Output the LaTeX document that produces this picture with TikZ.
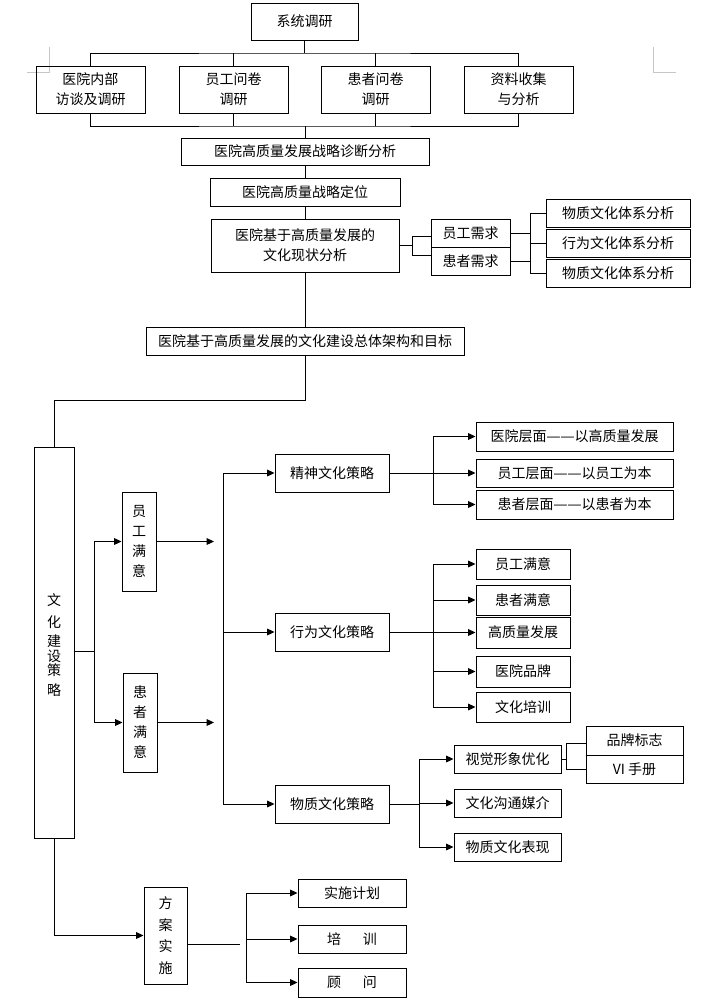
\documentclass[tikz,border=0pt]{standalone}
\usepackage{fontspec}
\setmainfont{Noto Sans CJK SC}
\usetikzlibrary{arrows.meta}
\newcommand{\bx}[7][]{\node[box,#1,minimum width={(#5-#3)*0.75pt},minimum height={(#6-#4)*0.75pt}] (#2) at ({(#3+#5)/2},{(#4+#6)/2}) {#7};}
\newcommand{\dsh}{\makebox[10.5pt]{\scalebox{1.15}[1]{—}}}
\begin{document}
\begin{tikzpicture}[x=0.75pt,y=-0.75pt,line width=0.75pt,
  box/.style={draw,inner sep=0pt,align=center,font=\fontsize{10.5pt}{15pt}\selectfont},
  chr/.style={inner sep=0pt,font=\fontsize{10.5pt}{10.5pt}\selectfont},
  arr/.style={-{Triangle[length=5.5pt,width=5pt]}},
  cropmark/.style={draw=gray!45,line width=0.6pt}]
\useasboundingbox[fill=white] (0,0) rectangle (707,1004);
% crop marks
\draw[cropmark] (49,47) -- (49,72) -- (27,72);
\draw[cropmark] (653,47) -- (653,72) -- (676,72);
% top part
\bx{sys}{251}{3}{358}{40}{系统调研}
\bx{r1}{36}{66}{145}{113}{医院内部\\访谈及调研}
\bx{r2}{179}{66}{288}{113}{员工问卷\\调研}
\bx{r3}{321}{66}{430}{113}{患者问卷\\调研}
\bx{r4}{464}{66}{573}{113}{资料收集\\与分析}
\bx{diag}{181}{138}{429}{165}{医院高质量发展战略诊断分析}
\bx{pos}{210}{178}{400}{206}{医院高质量战略定位}
\bx{cur}{211}{219}{399}{272}{医院基于高质量发展的\\文化现状分析}
\bx{need1}{431}{219}{510}{247}{员工需求}
\bx{need2}{431}{247}{510}{275}{患者需求}
\bx{an1}{546}{199}{690}{227}{物质文化体系分析}
\bx{an2}{546}{229}{690}{257}{行为文化体系分析}
\bx{an3}{546}{259}{690}{287}{物质文化体系分析}
\bx{frame}{146}{327}{464}{355}{医院基于高质量发展的文化建设总体架构和目标}
\coordinate (tb) at (305,53);
\coordinate (bb) at (305,126);
\draw (sys.south) -- (sys.south |- tb);
\draw (r1.north) |- (tb) -| (r4.north);
\draw (r2.north) -- (r2.north |- tb);
\draw (r3.north) -- (r3.north |- tb);
\draw (r1.south) |- (bb) -| (r4.south);
\draw (r2.south) -- (r2.south |- bb);
\draw (r3.south) -- (r3.south |- bb);
\draw (bb) -- (bb |- diag.north);
\draw (diag.south) -- (pos.north);
\draw (pos.south) -- (cur.north);
\draw (cur.south) -- (frame.north);
\coordinate (ka) at (412,236);
\coordinate (kb) at (412,255);
\draw (cur.east) -- (cur.east -| ka);
\draw (ka -| need1.west) -- (ka) -- (kb) -- (kb -| need2.west);
\coordinate (va) at (530,213);
\coordinate (vb) at (530,273);
\draw (need1.east) -- (need1.east -| va);
\draw (need2.east) -- (need2.east -| va);
\draw (an1.west) -- (va) -- (vb) -- (an3.west);
\draw (va |- an2.west) -- (an2.west);
% strategy part
\bx{strat}{34}{447}{74}{838}{}
\node[chr] (s1) at (54,600) {文};
\node[chr] (s2) at (54,622) {化};
\node[chr] (s3) at (54,641) {建};
\node[chr] (s4) at (54,656) {设};
\node[chr] (s5) at (54,670) {策};
\node[chr] (s6) at (54,690) {略};
\coordinate (turn) at (54,400);
\draw (frame.south) |- (strat.north |- turn) -- (strat.north);
\bx{emp}{122}{492}{156}{591}{员\\工\\满\\意}
\bx{pat}{123}{673}{157}{772}{患\\者\\满\\意}
\coordinate (lj) at (94,651);
\draw (strat.east |- lj) -- (lj);
\draw (lj |- emp.west) -- (lj |- pat.west);
\draw[arr] (lj |- emp.west) -- (emp.west);
\draw[arr] (lj |- pat.west) -- (pat.west);
\coordinate (e1) at (214,541.5);
\coordinate (e2) at (214,722.5);
\draw[arr] (emp.east) -- (e1);
\draw[arr] (pat.east) -- (e2);
\bx{spirit}{275}{454}{389}{492}{精神文化策略}
\bx{beh}{275}{613}{389}{651}{行为文化策略}
\bx{mat}{275}{785}{389}{823}{物质文化策略}
\coordinate (sv) at (223,0);
\draw (sv |- spirit.west) -- (sv |- mat.west);
\draw[arr] (sv |- spirit.west) -- (spirit.west);
\draw[arr] (sv |- beh.west) -- (beh.west);
\draw[arr] (sv |- mat.west) -- (mat.west);
% spirit branch
\bx{h1}{476}{422}{673}{451}{医院层面\dsh\dsh 以高质量发展}
\bx{h2}{476}{459}{673}{487}{员工层面\dsh\dsh 以员工为本}
\bx{h3}{476}{490}{673}{519}{患者层面\dsh\dsh 以患者为本}
\coordinate (v2) at (433,0);
\draw[arr] (spirit.east) -- (spirit.east -| h2.west);
\draw (v2 |- h1.west) -- (v2 |- h3.west);
\draw[arr] (v2 |- h1.west) -- (h1.west);
\draw[arr] (v2 |- h3.west) -- (h3.west);
% behaviour branch
\bx{b1}{476}{549}{570}{579}{员工满意}
\bx{b2}{476}{585}{570}{615}{患者满意}
\bx{b3}{476}{617}{570}{648}{高质量发展}
\bx{b4}{476}{656}{570}{687}{医院品牌}
\bx{b5}{476}{692}{570}{722}{文化培训}
\coordinate (v3) at (433,0);
\draw (beh.east) -- (v3 |- beh.east);
\draw (v3 |- b1.west) -- (v3 |- b5.west);
\foreach \b in {b1,b2,b3,b4,b5} \draw[arr] (v3 |- \b.west) -- (\b.west);
% material branch
\bx{m1}{454}{745}{561}{773}{视觉形象优化}
\bx{m2}{454}{789}{561}{817}{文化沟通媒介}
\bx{m3}{454}{833}{561}{861}{物质文化表现}
\coordinate (v4) at (419,0);
\draw (mat.east) -- (v4 |- mat.east);
\draw (v4 |- m1.west) -- (v4 |- m3.west);
\foreach \m in {m1,m2,m3} \draw[arr] (v4 |- \m.west) -- (\m.west);
\bx{p1}{586}{726}{683}{755}{品牌标志}
\bx{p2}{586}{755}{683}{783}{VI 手册}
\draw[line width=1.4pt] (p1.south west) -- (p1.south east);
\coordinate (q1) at (566,743);
\coordinate (q2) at (566,769);
\draw (m1.east) -- (m1.east -| q1);
\draw (q1 -| p1.west) -- (q1) -- (q2) -- (q2 -| p2.west);
% implementation
\bx[font=\fontsize{10.5pt}{16.3pt}\selectfont]{plan}{144}{887}{187}{984}{方\\案\\实\\施}
\draw[arr] (strat.south) |- (plan.west);
\bx{i1}{298}{879}{406}{907}{实施计划}
\bx{i2}{298}{925}{406}{953}{培\hspace{16.5pt}训}
\bx{i3}{298}{968}{406}{997}{顾\hspace{16.5pt}问}
\coordinate (pe) at (240,944);
\draw (plan.east |- pe) -- (pe);
\coordinate (v6) at (246,0);
\draw (v6 |- i1.west) -- (v6 |- i3.west);
\foreach \i in {i1,i2,i3} \draw[arr] (v6 |- \i.west) -- (\i.west);
\end{tikzpicture}
\end{document}
